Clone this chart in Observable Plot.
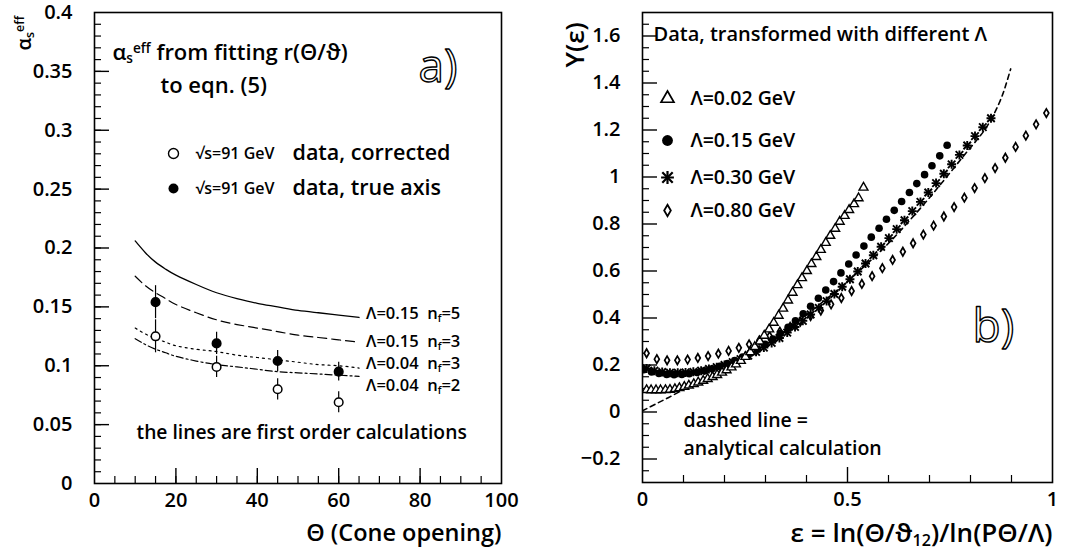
<!DOCTYPE html>
<html><head><meta charset="utf-8">
<script src="https://cdn.jsdelivr.net/npm/d3@7"></script>
<script src="https://cdn.jsdelivr.net/npm/@observablehq/plot@0.6"></script>
<style>
html,body{margin:0;padding:0;background:#fff;}
#wrap{position:relative;width:1073px;height:552px;overflow:hidden;}
#wrap svg{position:absolute;top:0;}
svg text{white-space:pre;}
</style></head><body><div id="wrap"></div>
<script>
// ---------- Panel a) data ----------
const thetaPts = [15, 30, 45, 60];
const alphaCorrected = [0.125, 0.099, 0.080, 0.069];
const errCorrected = [0.014, 0.009, 0.009, 0.009];
const alphaTrueAxis = [0.154, 0.119, 0.104, 0.095];
const errTrueAxis = [0.014, 0.0095, 0.009, 0.008];

const curveTheta = [10, 12.5, 15, 17.5, 20, 25, 30, 35, 40, 45, 50, 55, 60, 65];
const curveL015nf5 = [0.206, 0.196, 0.188, 0.182, 0.177, 0.169, 0.162, 0.157, 0.153, 0.150, 0.147, 0.145, 0.143, 0.141];
const curveL015nf3 = [0.176, 0.168, 0.162, 0.157, 0.152, 0.145, 0.139, 0.135, 0.132, 0.129, 0.126, 0.124, 0.122, 0.120];
const curveL004nf3 = [0.132, 0.127, 0.123, 0.120, 0.117, 0.114, 0.112, 0.109, 0.107, 0.105, 0.103, 0.101, 0.100, 0.098];
const curveL004nf2 = [0.123, 0.118, 0.114, 0.111, 0.108, 0.104, 0.101, 0.099, 0.097, 0.095, 0.094, 0.093, 0.092, 0.091];
const curveLabels = ["Λ=0.15  n_{f}=5", "Λ=0.15  n_{f}=3", "Λ=0.04  n_{f}=3", "Λ=0.04  n_{f}=2"];

const xTicksA = [0, 20, 40, 60, 80, 100];
const yTicksA = [0, 0.05, 0.1, 0.15, 0.2, 0.25, 0.3, 0.35, 0.4];
const legendA = ["√s=91 GeV", "√s=91 GeV"];
const legendA2 = ["data, corrected", "data, true axis"];

// ---------- Panel b) data ----------
const tri002 = [[0.010,0.094],[0.021,0.093],[0.033,0.093],[0.044,0.093],[0.056,0.094],[0.067,0.095],[0.079,0.098],[0.090,0.102],[0.102,0.107],[0.113,0.113],[0.125,0.119],[0.136,0.126],[0.148,0.133],[0.159,0.141],[0.171,0.149],[0.182,0.158],[0.194,0.168],[0.205,0.178],[0.217,0.190],[0.228,0.203],[0.240,0.218],[0.251,0.235],[0.263,0.255],[0.274,0.277],[0.286,0.300],[0.297,0.325],[0.309,0.352],[0.320,0.380],[0.332,0.410],[0.343,0.440],[0.355,0.475],[0.366,0.508],[0.378,0.540],[0.389,0.570],[0.401,0.600],[0.412,0.630],[0.424,0.660],[0.435,0.690],[0.447,0.720],[0.458,0.750],[0.470,0.780],[0.481,0.810],[0.493,0.835],[0.504,0.860],[0.516,0.885],[0.527,0.910],[0.539,0.955]];
const circ015 = [[0.003,0.180],[0.022,0.170],[0.040,0.164],[0.059,0.160],[0.077,0.159],[0.096,0.160],[0.114,0.163],[0.133,0.168],[0.151,0.175],[0.170,0.184],[0.188,0.194],[0.207,0.206],[0.225,0.219],[0.244,0.234],[0.262,0.250],[0.281,0.268],[0.299,0.288],[0.318,0.310],[0.336,0.334],[0.355,0.360],[0.373,0.388],[0.392,0.418],[0.410,0.450],[0.429,0.484],[0.447,0.519],[0.466,0.555],[0.484,0.592],[0.503,0.630],[0.521,0.668],[0.540,0.706],[0.558,0.744],[0.577,0.782],[0.595,0.820],[0.614,0.858],[0.632,0.896],[0.651,0.934],[0.669,0.972],[0.688,1.010],[0.706,1.048],[0.725,1.090],[0.743,1.135]];
const star030 = [[0.010,0.185],[0.029,0.176],[0.048,0.170],[0.067,0.167],[0.086,0.167],[0.105,0.168],[0.124,0.171],[0.143,0.176],[0.162,0.183],[0.181,0.191],[0.200,0.200],[0.220,0.212],[0.239,0.225],[0.258,0.240],[0.277,0.256],[0.296,0.274],[0.315,0.294],[0.334,0.315],[0.353,0.338],[0.372,0.362],[0.391,0.388],[0.410,0.415],[0.430,0.443],[0.449,0.472],[0.468,0.502],[0.487,0.533],[0.506,0.565],[0.525,0.598],[0.544,0.632],[0.563,0.667],[0.582,0.703],[0.601,0.740],[0.620,0.778],[0.639,0.816],[0.658,0.855],[0.678,0.894],[0.697,0.934],[0.716,0.974],[0.735,1.014],[0.754,1.054],[0.773,1.094],[0.792,1.134],[0.811,1.174],[0.830,1.212],[0.850,1.250]];
const diam080 = [[0.010,0.250],[0.035,0.225],[0.060,0.220],[0.085,0.220],[0.110,0.223],[0.135,0.230],[0.160,0.238],[0.185,0.248],[0.210,0.260],[0.235,0.273],[0.260,0.288],[0.285,0.305],[0.310,0.323],[0.335,0.342],[0.360,0.362],[0.385,0.385],[0.410,0.408],[0.435,0.432],[0.460,0.458],[0.485,0.485],[0.510,0.515],[0.535,0.545],[0.560,0.578],[0.585,0.612],[0.610,0.647],[0.635,0.682],[0.660,0.718],[0.685,0.755],[0.710,0.793],[0.735,0.832],[0.760,0.872],[0.785,0.912],[0.810,0.953],[0.835,0.995],[0.860,1.038],[0.885,1.082],[0.910,1.128],[0.935,1.176],[0.960,1.224],[0.985,1.272]];
const analytic = [[0.000,0.005],[0.030,0.032],[0.064,0.062],[0.100,0.095],[0.150,0.138],[0.200,0.183],[0.250,0.232],[0.300,0.287],[0.350,0.348],[0.400,0.414],[0.450,0.483],[0.500,0.556],[0.550,0.634],[0.600,0.718],[0.650,0.812],[0.700,0.912],[0.750,1.018],[0.800,1.125],[0.840,1.215],[0.870,1.315],[0.885,1.385],[0.898,1.460]];

const xTicksB = [0, 0.5, 1];
const yTicksB = [-0.2, 0, 0.2, 0.4, 0.6, 0.8, 1, 1.2, 1.4, 1.6];
const legendB = ["Λ=0.02 GeV", "Λ=0.15 GeV", "Λ=0.30 GeV", "Λ=0.80 GeV"];

// ---------- helpers ----------
const FONT = "'Open Sans', Lato, sans-serif";
function applyScripts(svg) {
  svg.querySelectorAll("text, tspan").forEach(el => {
    if (el.children.length) return;
    const s = el.textContent;
    if (!/[_^]\{/.test(s)) return;
    el.textContent = "";
    const re = /([_^])\{([^}]*)\}/g;
    let last = 0, m;
    const add = str => { const t = document.createElementNS("http://www.w3.org/2000/svg", "tspan"); t.textContent = str; el.appendChild(t); return t; };
    while ((m = re.exec(s))) {
      if (m.index > last) add(s.slice(last, m.index));
      const t = add(m[2]);
      t.setAttribute("font-size", "0.62em");
      t.setAttribute("baseline-shift", m[1] === "_" ? "-0.25em" : "0.55em");
      last = re.lastIndex;
    }
    if (last < s.length) add(s.slice(last));
  });
}
// inward ticks on the left and bottom frame edges, drawn like the error bars (length in pixels)
function frameTicks(xDom, yDom, W, H, xMajor, xMinor, yMajor, yMinor) {
  const lx = L => xDom[0] + (xDom[1] - xDom[0]) * L / W;
  const ly = L => yDom[0] + (yDom[1] - yDom[0]) * L / H;
  const yt = (vals, L, sw) => Plot.ruleY(vals.map(t => ({t})), {y: "t", x1: d => xDom[0], x2: d => lx(L), strokeWidth: sw});
  const xt = (vals, L, sw) => Plot.ruleX(vals.map(t => ({t})), {x: "t", y1: d => yDom[0], y2: d => ly(L), strokeWidth: sw});
  return [yt(yMinor, 7, 1.2), yt(yMajor, 15, 1.4), xt(xMinor, 7, 1.2), xt(xMajor, 15, 1.4)];
}
const fmt = d => String(+d.toFixed(2)).replace("-", "\u2212");
const txt = (s, o) => Plot.text([s], {text: d => d, frameAnchor: "top-left", lineAnchor: "middle", textAnchor: "start", fill: "black", ...o});

const narrowDiamond = {
  draw(ctx, size) {
    const h = Math.sqrt(size) * 0.72, w = h * 0.58;
    ctx.moveTo(0, -h); ctx.lineTo(w, 0); ctx.lineTo(0, h); ctx.lineTo(-w, 0); ctx.closePath();
  }
};

// ---------- Panel a) ----------
const ptsCorr = thetaPts.map((t, i) => ({t, a: alphaCorrected[i], e: errCorrected[i]}));
const ptsTrue = thetaPts.map((t, i) => ({t, a: alphaTrueAxis[i], e: errTrueAxis[i]}));
const curves = [curveL015nf5, curveL015nf3, curveL004nf3, curveL004nf2];
const dashes = [null, "9,5", "2,4", "7,3,2,3"];
const curveRows = curves.flatMap((vals, k) => curveTheta.map((t, i) => ({t, a: vals[i], k})));
const curveEnds = curves.map((vals, k) => ({t: curveTheta[curveTheta.length - 1], a: vals[vals.length - 1], label: curveLabels[k], k}));
const labelShift = [-4, 0, -4, 9];
const xDomA = [0, 100], yDomA = [0, 0.4];

const plotA = Plot.plot({
  width: 540, height: 552,
  marginLeft: 94, marginRight: 39, marginTop: 12, marginBottom: 69,
  style: {fontFamily: FONT, fontSize: "18px", fontWeight: 600, background: "transparent", color: "black"},
  x: {domain: xDomA},
  y: {domain: yDomA},
  marks: [
    Plot.axisY(yTicksA, {tickSize: 0, tickPadding: 22, tickFormat: fmt, label: null, fontSize: 20}),
    Plot.axisX(xTicksA, {tickSize: 0, tickPadding: 9, tickFormat: fmt, label: null, fontSize: 20}),
    ...frameTicks(xDomA, yDomA, 407, 471, xTicksA.filter(d => d > 0 && d < 100), d3.range(5, 100, 5), yTicksA.filter(d => d > 0 && d < 0.4), d3.range(0.01, 0.395, 0.01)),
    ...curves.map((vals, k) => Plot.line(curveRows.filter(r => r.k === k), {x: "t", y: "a", curve: "natural", stroke: "black", strokeWidth: k === 0 ? 1.3 : 1.2, strokeDasharray: dashes[k]})),
    Plot.ruleX(ptsTrue, {x: "t", y1: d => d.a - d.e, y2: d => d.a + d.e, strokeWidth: 1.2}),
    Plot.ruleX(ptsCorr, {x: "t", y1: d => d.a - d.e, y2: d => d.a + d.e, strokeWidth: 1.2}),
    Plot.dot(ptsCorr, {x: "t", y: "a", r: 4.3, fill: "white", stroke: "black", strokeWidth: 1.5}),
    Plot.dot(ptsTrue, {x: "t", y: "a", r: 4.3, fill: "black", stroke: "black"}),
    ...curveEnds.map(c => Plot.text([c], {x: "t", y: "a", text: "label", dx: 7, dy: labelShift[c.k], textAnchor: "start", fontSize: 16.5})),
    Plot.frame({stroke: "black", strokeWidth: 1.6}),
    txt("α_{s}^{eff}", {dx: -70, dy: 38, rotate: -90, fontSize: 20}),
    txt("α_{s}^{eff} from fitting r(Θ/ϑ)", {dx: 18, dy: 40, fontSize: 22}),
    txt("to eqn. (5)", {dx: 66, dy: 73, fontSize: 22}),
    txt("a)", {dx: 324, dy: 55, fontSize: 46, fontWeight: 400, fill: "white", stroke: "black", strokeWidth: 1.4, paintOrder: "normal"}),
    Plot.dot([0], {frameAnchor: "top-left", dx: 79, dy: 141, r: 5, fill: "white", stroke: "black", strokeWidth: 1.4}),
    Plot.dot([0], {frameAnchor: "top-left", dx: 79, dy: 176, r: 5, fill: "black"}),
    txt(legendA[0], {dx: 101, dy: 141, fontSize: 16}),
    txt(legendA[1], {dx: 101, dy: 176, fontSize: 16}),
    txt(legendA2[0], {dx: 198, dy: 141, fontSize: 21.5}),
    txt(legendA2[1], {dx: 198, dy: 176, fontSize: 21.5}),
    txt("the lines are first order calculations", {dx: 42, dy: 420, fontSize: 19.3}),
    Plot.text(["Θ (Cone opening)"], {text: d => d, frameAnchor: "bottom-right", lineAnchor: "middle", textAnchor: "end", dy: 50, fontSize: 23.5})
  ]
});

// ---------- Panel b) ----------
const px = d => d[0], py = d => d[1];
const xDomB = [0, 1], yDomB = [-0.3, 1.7];
const plotB = Plot.plot({
  width: 533, height: 552,
  marginLeft: 102, marginRight: 21, marginTop: 12, marginBottom: 70,
  style: {fontFamily: FONT, fontSize: "18px", fontWeight: 600, background: "transparent", color: "black"},
  x: {domain: xDomB},
  y: {domain: yDomB},
  marks: [
    Plot.axisY(yTicksB, {tickSize: 0, tickPadding: 22, tickFormat: fmt, label: null, fontSize: 20}),
    Plot.axisX(xTicksB, {tickSize: 0, tickPadding: 9, tickFormat: fmt, label: null, fontSize: 20}),
    ...frameTicks(xDomB, yDomB, 410, 470, [0.5], d3.range(0.1, 1, 0.1).filter(d => Math.abs(d - 0.5) > 1e-6), yTicksB, d3.range(-0.25, 1.7, 0.05).filter(d => Math.abs(Math.round(d * 5) - d * 5) > 1e-6)),
    Plot.line(analytic, {x: px, y: py, curve: "natural", stroke: "black", strokeWidth: 1.6, strokeDasharray: "5,4", clip: true}),
    Plot.dot(diam080, {x: px, y: py, symbol: narrowDiamond, r: 3.3, fill: "white", stroke: "black", strokeWidth: 1.7, clip: true}),
    Plot.dot(star030, {x: px, y: py, symbol: "plus", r: 3, stroke: "black", strokeWidth: 1.9, clip: true}),
    Plot.dot(star030, {x: px, y: py, symbol: "times", r: 3.5, stroke: "black", strokeWidth: 1.9, clip: true}),
    Plot.dot(circ015, {x: px, y: py, r: 3.8, fill: "black", clip: true}),
    Plot.dot(tri002, {x: px, y: py, symbol: "triangle", r: 3.3, fill: "white", stroke: "black", strokeWidth: 1.4, clip: true}),
    Plot.frame({stroke: "black", strokeWidth: 1.6}),
    txt("Y(ε)", {dx: -67, dy: 55, rotate: -90, fontSize: 26}),
    txt("Data, transformed with different Λ", {dx: 11, dy: 22, fontSize: 20}),
    Plot.dot([0], {frameAnchor: "top-left", dx: 25, dy: 86, symbol: "triangle", r: 4.8, fill: "white", stroke: "black", strokeWidth: 1.7}),
    Plot.dot([0], {frameAnchor: "top-left", dx: 25, dy: 128, r: 5.4, fill: "black"}),
    Plot.dot([0], {frameAnchor: "top-left", dx: 25, dy: 165, symbol: "plus", r: 4.2, stroke: "black", strokeWidth: 2.2}),
    Plot.dot([0], {frameAnchor: "top-left", dx: 25, dy: 165, symbol: "times", r: 4.8, stroke: "black", strokeWidth: 2.2}),
    Plot.dot([0], {frameAnchor: "top-left", dx: 25, dy: 198, symbol: narrowDiamond, r: 4.5, fill: "white", stroke: "black", strokeWidth: 1.8}),
    ...legendB.map((s, i) => txt(s, {dx: 48, dy: [86, 128, 165, 198][i], fontSize: 19.5})),
    txt("b)", {dx: 330, dy: 315, fontSize: 46, fontWeight: 400, fill: "white", stroke: "black", strokeWidth: 1.4, paintOrder: "normal"}),
    txt("dashed line =", {dx: 41, dy: 408, fontSize: 19.5}),
    txt("analytical calculation", {dx: 41, dy: 436, fontSize: 19.5}),
    Plot.text(["ε = ln(Θ/ϑ_{12})/ln(PΘ/Λ)"], {text: d => d, frameAnchor: "bottom-right", lineAnchor: "middle", textAnchor: "end", dy: 51, fontSize: 26})
  ]
});

const wrap = document.getElementById("wrap");
[plotA, plotB].forEach((p, i) => {
  applyScripts(p);
  p.style.left = i === 0 ? "0px" : "540px";
  wrap.appendChild(p);
});
</script></body></html>
